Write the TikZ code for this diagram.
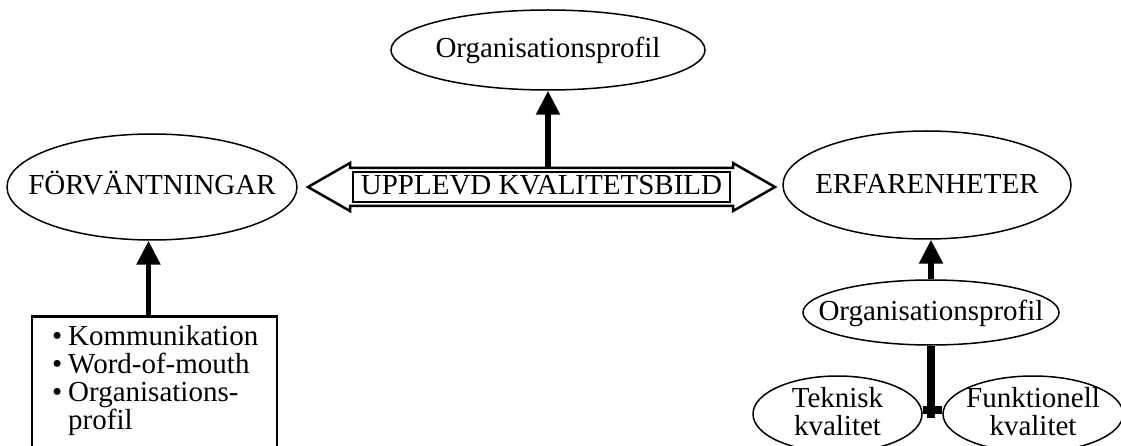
\documentclass[tikz,border=0pt]{standalone}
\usepackage{fontspec}
\setmainfont{Liberation Serif}
\usetikzlibrary{shapes.geometric,arrows.meta,calc}
\begin{document}
\begin{tikzpicture}[x=1pt,y=-1pt,
  every node/.style={font=\fontsize{29}{28}\selectfont, inner sep=0pt},
  ell/.style={ellipse, draw, line width=1.5pt},
  lab/.style={text height=21.75pt, text depth=5.8pt},
  lab2/.style={align=center},
  arr/.style={line width=5.5pt, -{Triangle[width=23pt,length=24pt]}},
  boxline/.style={line width=2.5pt},
]
\useasboundingbox (0,0) rectangle (1121,446);
\clip (0,0) rectangle (1121,446);
% nodes
\node[ell, minimum width=314, minimum height=80, label={[lab]center:Organisationsprofil}] (top) at (548,50) {};
\node[ell, minimum width=290, minimum height=106, label={[lab]center:FÖRVÄNTNINGAR}] (fore) at (152,187) {};
\node[ell, minimum width=288, minimum height=108, label={[lab,yshift=-1pt]center:ERFARENHETER}] (erf) at (927,185) {};
\node[draw, line width=1.5pt, minimum width=377, minimum height=30, text height=21.75pt, text depth=5.8pt] (upl) at (541.5,187) {UPPLEVD KVALITETSBILD};
\node[ell, minimum width=256, minimum height=65, label={[lab]center:Organisationsprofil}] (so) at (931,312.5) {};
\node[ell, minimum width=169, minimum height=76, label={[lab2,yshift=2pt]center:Teknisk\\kvalitet}] (tek) at (837.5,414) {};
\node[ell, minimum width=180, minimum height=76, label={[lab2,yshift=2pt]center:Funktionell\\kvalitet}] (fun) at (1033,414) {};
\node[draw, boxline, minimum width=245, minimum height=160, anchor=north] (box) at (154.5,315) {};
\node[anchor=north west, align=left] (boxtext) at (52,325)
  {\makebox[16pt][l]{\textbullet}Kommunikation\\
   \makebox[16pt][l]{\textbullet}Word-of-mouth\\
   \makebox[16pt][l]{\textbullet}Organisations-\\
   \hspace*{16pt}profil};
% double arrow outline around the central label
\draw[boxline, line join=miter]
  (308,187) -- (350,163) -- (350,168) -- (733,168) -- (733,163) -- (775,187)
  -- (733,211) -- (733,206) -- (350,206) -- (350,211) -- cycle;
% connectors
\draw[arr] (upl.north -| top.south) ++(0,-4) -- (top.south);
\draw[arr] ([xshift=-6pt]box.north) -- ([xshift=-6pt]box.north |- fore.south);
\draw[arr] (so.north) -- (so.north |- erf.south);
\coordinate (j) at ($(tek.east)!0.5!(fun.west)+(0,4)$);
\draw[line width=7.5pt] (so.south) -- (so.south |- j);
\draw[line width=8pt] ([yshift=4pt]tek.east) -- ([yshift=4pt]fun.west);
\end{tikzpicture}
\end{document}
